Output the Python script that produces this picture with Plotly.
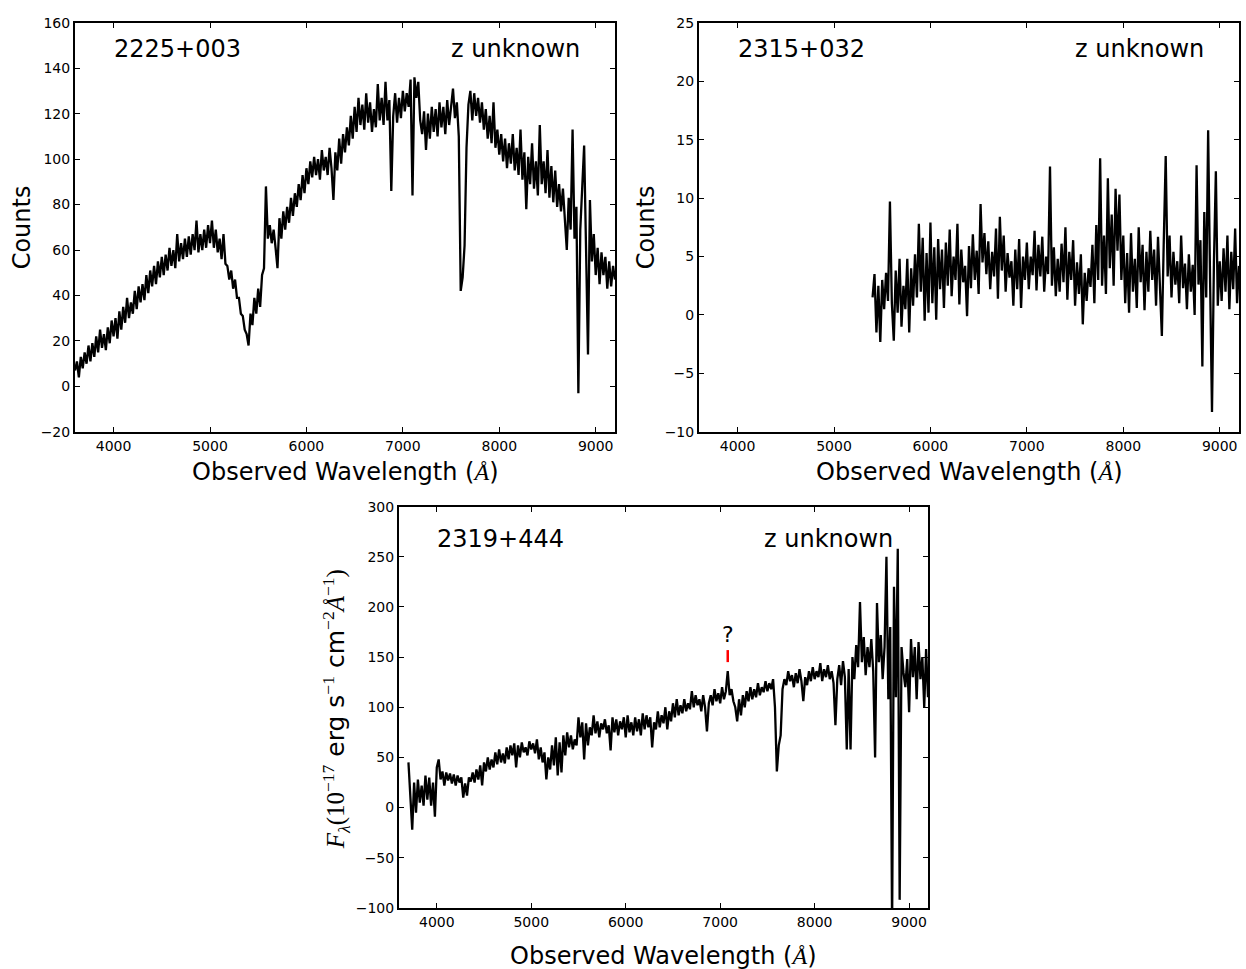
import numpy as np
import plotly.graph_objects as go

# ---- 2225+003 : counts, sampled every 20 A from 3600 A ----
wave1_start, wave1_step, wave1_end = 3600, 20, 9200
counts_2225 = [
    7, 11, 4, 13, 8, 15, 10, 18, 11, 19,
    13, 22, 15, 25, 17, 23, 16, 26, 19, 29,
    22, 30, 21, 33, 25, 35, 28, 39, 30, 37,
    32, 42, 34, 44, 37, 45, 38, 49, 41, 51,
    44, 53, 45, 55, 48, 57, 49, 58, 51, 61,
    53, 60, 52, 67, 55, 63, 56, 65, 57, 66,
    58, 67, 60, 73, 59, 67, 60, 69, 61, 71,
    63, 73, 61, 69, 59, 65, 56, 67, 54, 53,
    47, 51, 43, 47, 39, 39, 32, 31, 25, 23,
    18, 32, 27, 39, 32, 43, 35, 49, 52, 88,
    65, 71, 63, 69, 61, 52, 74, 65, 77, 69,
    79, 72, 83, 75, 85, 79, 89, 82, 93, 85,
    96, 89, 99, 92, 101, 93, 100, 91, 104, 95,
    101, 93, 105, 96, 82, 103, 95, 109, 98, 111,
    103, 114, 106, 119, 109, 123, 112, 127, 115, 124,
    113, 129, 116, 125, 112, 122, 114, 133, 117, 127,
    115, 134, 117, 126, 86, 119, 129, 116, 127, 118,
    130, 121, 129, 123, 135, 84, 136, 127, 134, 117,
    111, 121, 104, 120, 109, 123, 112, 122, 110, 125,
    114, 123, 111, 126, 115, 124, 131, 118, 125, 110,
    42, 48, 62, 105, 124, 130, 117, 129, 119, 127,
    116, 125, 113, 122, 109, 119, 107, 125, 105, 113,
    102, 111, 99, 109, 96, 107, 98, 111, 95, 105,
    93, 113, 91, 103, 78, 101, 89, 107, 87, 99,
    84, 115, 89, 99, 85, 104, 83, 97, 81, 95,
    79, 89, 77, 87, 73, 60, 83, 69, 113, 65,
    79, -3, 69, 89, 106, 60, 14, 82, 55, 67,
    49, 61, 45, 59, 49, 57, 43, 55, 44, 53,
    47,
]

# ---- 2315+032 : counts, sampled every 20 A from 5400 A ----
wave2_start, wave2_step, wave2_end = 5400, 20, 9200
counts_2315 = [
    1.5, 3.5, -1.5, 2.5, -2.3, 3.0, 0.5, 3.6, 1.2, 9.7,
    1.0, -2.2, 3.8, 0.2, 4.8, -1.0, 2.5, 0.5, 4.8, -1.5,
    4.0, 0.8, 5.2, 1.5, 7.8, 2.0, 6.6, -0.5, 5.3, 0.2,
    7.9, 1.0, 5.8, -0.4, 6.5, 2.2, 5.6, 0.6, 6.2, 2.5,
    7.3, 1.6, 5.0, 3.0, 7.8, 0.9, 5.6, 2.8, 4.2, -0.1,
    5.9, 2.3, 6.9, 3.0, 5.5, 1.8, 9.5, 4.5, 7.0, 3.5,
    6.3, 2.2, 5.4, 3.3, 7.4, 1.4, 8.4, 3.8, 6.8, 2.0,
    5.3, 3.2, 4.6, 0.8, 5.6, 2.2, 6.5, 0.6, 5.0, 3.0,
    6.2, 2.2, 5.0, 3.4, 7.2, 2.1, 6.0, 3.3, 6.7, 2.0,
    5.0, 3.5, 12.7, 2.5, 5.8, 1.6, 4.8, 2.0, 6.1, 2.8,
    7.5, 1.3, 5.4, 3.0, 6.4, 0.8, 4.5, 1.8, 5.2, -0.8,
    3.6, 1.2, 4.0, 2.4, 6.0, 1.0, 7.7, 3.0, 13.4, 2.5,
    6.8, 1.8, 11.7, 4.0, 8.6, 2.5, 10.8, 5.5, 10.3, 3.0,
    6.8, 1.0, 5.3, 0.2, 7.0, 2.0, 4.8, 0.6, 7.5, 2.8,
    6.0, 0.4, 5.4, 2.0, 7.2, 3.0, 5.6, 0.8, 6.7, 2.6,
    -1.8, 6.4, 13.6, 3.3, 6.8, 1.5, 5.4, 2.6, 4.6, 1.0,
    6.8, 2.3, 4.4, 0.5, 5.2, 2.0, 4.3, 0.0, 12.8, 2.6,
    6.4, -4.4, 8.8, 1.5, 15.8, 3.0, -8.3, 4.5, 12.3, 0.8,
    4.6, 1.2, 5.7, 2.0, 6.8, 0.5, 5.4, 2.2, 7.4, 1.0,
    4.2,
]

# ---- 2319+444 : flux in 1e-17 erg/s/cm2/A, sampled every 20 A from 3700 A ----
wave3_start, wave3_step, wave3_end = 3700, 20, 9200
flux_2319 = [
    45, 10, -22, 25, -5, 28, 5, 22, 2, 32,
    8, 30, 2, 25, -9, 40, 48, 28, 36, 22,
    35, 27, 34, 24, 33, 22, 32, 25, 30, 10,
    24, 12, 30, 26, 35, 25, 38, 28, 42, 22,
    45, 36, 50, 38, 48, 40, 55, 43, 58, 45,
    54, 44, 60, 48, 62, 52, 64, 40, 62, 50,
    65, 55, 60, 52, 66, 58, 64, 54, 68, 48,
    60, 45, 55, 28, 50, 38, 62, 42, 70, 32,
    65, 35, 72, 52, 75, 60, 72, 58, 68, 62,
    90, 70, 85, 48, 84, 62, 80, 72, 92, 74,
    86, 70, 84, 78, 88, 74, 82, 57, 90, 75,
    88, 72, 86, 78, 90, 70, 92, 75, 85, 72,
    90, 76, 88, 72, 94, 78, 92, 80, 90, 60,
    85, 78, 96, 80, 92, 84, 100, 78, 96, 86,
    104, 90, 108, 92, 102, 94, 108, 96, 104, 98,
    116, 100, 112, 102, 108, 96, 112, 100, 76, 104,
    112, 102, 118, 106, 114, 104, 120, 108, 116, 136,
    112, 118, 106, 100, 86, 108, 92, 112, 100, 116,
    106, 120, 108, 118, 110, 124, 112, 120, 115, 126,
    116, 124, 118, 128, 100, 36, 62, 72, 118, 128,
    122, 136, 126, 132, 120, 134, 124, 138, 126, 106,
    130, 122, 136, 126, 140, 128, 136, 130, 144, 126,
    138, 130, 142, 128, 136, 124, 82, 128, 142, 122,
    146, 130, 58, 138, 58, 150, 128, 162, 140, 205,
    145, 170, 132, 160, 140, 168, 136, 50, 204, 145,
    172, 128, 160, 250, 108, 180, -120, 220, 110, 258,
    -92, 160, 135, 120, 148, 95, 168, 130, 160, 108,
    165, 128, 150, 100, 158, 110,
]

# unidentified feature marked in 2319+444
feature_wave = 7080
feature_tick = (145, 157)
feature_label_y = 173

x_range = [3600, 9200]
x_ticks = [4000, 5000, 6000, 7000, 8000, 9000]
y1_range, y1_ticks = [-20, 160], list(range(-20, 161, 20))
y2_range, y2_ticks = [-10, 25], list(range(-10, 26, 5))
y3_range, y3_ticks = [-100, 300], list(range(-100, 301, 50))

wave1 = np.arange(wave1_start, wave1_end + 1, wave1_step)
wave2 = np.arange(wave2_start, wave2_end + 1, wave2_step)
wave3 = np.arange(wave3_start, wave3_end + 1, wave3_step)

W, H = 1246, 969
FONT = "DejaVu Sans"
SERIF = "Liberation Serif"

line_style = dict(color="black", width=2.3)

fig = go.Figure()
fig.add_trace(go.Scatter(x=wave1, y=counts_2225, mode="lines", line=line_style,
                         xaxis="x", yaxis="y", showlegend=False))
fig.add_trace(go.Scatter(x=wave2, y=counts_2315, mode="lines", line=line_style,
                         xaxis="x2", yaxis="y2", showlegend=False))
fig.add_trace(go.Scatter(x=wave3, y=flux_2319, mode="lines", line=line_style,
                         xaxis="x3", yaxis="y3", showlegend=False))


def px_x(p):
    return p / W


def px_y(p):
    return 1 - p / H


axis_common = dict(
    showline=True, linecolor="black", linewidth=2, mirror="ticks",
    ticks="inside", ticklen=5, tickwidth=1, tickcolor="black",
    showgrid=False, zeroline=False,
    tickfont=dict(family=FONT, size=14, color="black"),
)

panels = [
    # (x px left, x px right, y px top, y px bottom)
    (75, 615, 15, 431),
    (699, 1239, 15, 431),
    (399, 928, 507, 915),
]
# vertical position of the in-panel labels (fraction of axis height)
label_y = [0.935, 0.935, 0.919]
# pixel row of the x-axis title centre
xtitle_y = [472, 472, 964]

layout = dict(
    width=W, height=H,
    margin=dict(l=0, r=0, t=0, b=0),
    paper_bgcolor="white", plot_bgcolor="white",
    font=dict(family=FONT, color="black"),
)

yinfo = [(y1_range, y1_ticks), (y2_range, y2_ticks), (y3_range, y3_ticks)]
for i, ((xl, xr, yt, yb), (yr, yt_vals)) in enumerate(zip(panels, yinfo), start=1):
    sfx = "" if i == 1 else str(i)
    layout["xaxis" + sfx] = dict(axis_common, domain=[px_x(xl), px_x(xr)],
                                 anchor="y" + sfx, range=x_range, tickvals=x_ticks)
    layout["yaxis" + sfx] = dict(axis_common, domain=[px_y(yb), px_y(yt)],
                                 anchor="x" + sfx, range=yr, tickvals=yt_vals)

fig.update_layout(**layout)

annotations = []
names = ["2225+003", "2315+032", "2319+444"]
for i, ((xl, xr, yt, yb), name, ly, ty) in enumerate(
        zip(panels, names, label_y, xtitle_y), start=1):
    sfx = "" if i == 1 else str(i)
    annotations.append(dict(text=name, xref="x%s domain" % sfx, yref="y%s domain" % sfx,
                            x=0.068, y=ly, xanchor="left", yanchor="middle",
                            showarrow=False, font=dict(size=24, family=FONT)))
    annotations.append(dict(text="z unknown", xref="x%s domain" % sfx, yref="y%s domain" % sfx,
                            x=0.938, y=ly, xanchor="right", yanchor="middle",
                            showarrow=False, font=dict(size=24, family=FONT)))
    # x-axis title
    annotations.append(dict(
        text='Observed Wavelength (<span style="font-family:%s"><i>Å</i></span>)' % SERIF,
        xref="paper", yref="paper", x=px_x((xl + xr) / 2), y=px_y(ty),
        xanchor="center", yanchor="middle", showarrow=False,
        font=dict(size=24, family=FONT)))

# y-axis titles
annotations.append(dict(text="Counts", xref="paper", yref="paper",
                        x=px_x(22), y=px_y(223), textangle=-90,
                        xanchor="center", yanchor="middle", showarrow=False,
                        font=dict(size=24, family=FONT)))
annotations.append(dict(text="Counts", xref="paper", yref="paper",
                        x=px_x(646), y=px_y(223), textangle=-90,
                        xanchor="center", yanchor="middle", showarrow=False,
                        font=dict(size=24, family=FONT)))
flux_label = (
    '<span style="font-family:{s}"><i>F</i><sub><i>λ</i></sub>(10<sup>−17</sup></span>'
    ' erg s<span style="font-family:{s}"><sup>−1</sup></span>'
    ' cm<span style="font-family:{s}"><sup>−2</sup><i>Å</i><sup>−1</sup>)</span>'
).format(s=SERIF)
annotations.append(dict(text=flux_label, xref="paper", yref="paper",
                        x=px_x(336), y=px_y(713), textangle=-90,
                        xanchor="center", yanchor="middle", showarrow=False,
                        font=dict(size=25, family=FONT)))

# feature marker
annotations.append(dict(text="?", xref="x3", yref="y3", x=feature_wave, y=feature_label_y,
                        xanchor="center", yanchor="middle", showarrow=False,
                        font=dict(size=22, family=FONT)))
fig.add_shape(type="line", xref="x3", yref="y3",
              x0=feature_wave, x1=feature_wave, y0=feature_tick[0], y1=feature_tick[1],
              line=dict(color="red", width=2.5))

fig.update_layout(annotations=annotations)
fig.write_html("out.html")
